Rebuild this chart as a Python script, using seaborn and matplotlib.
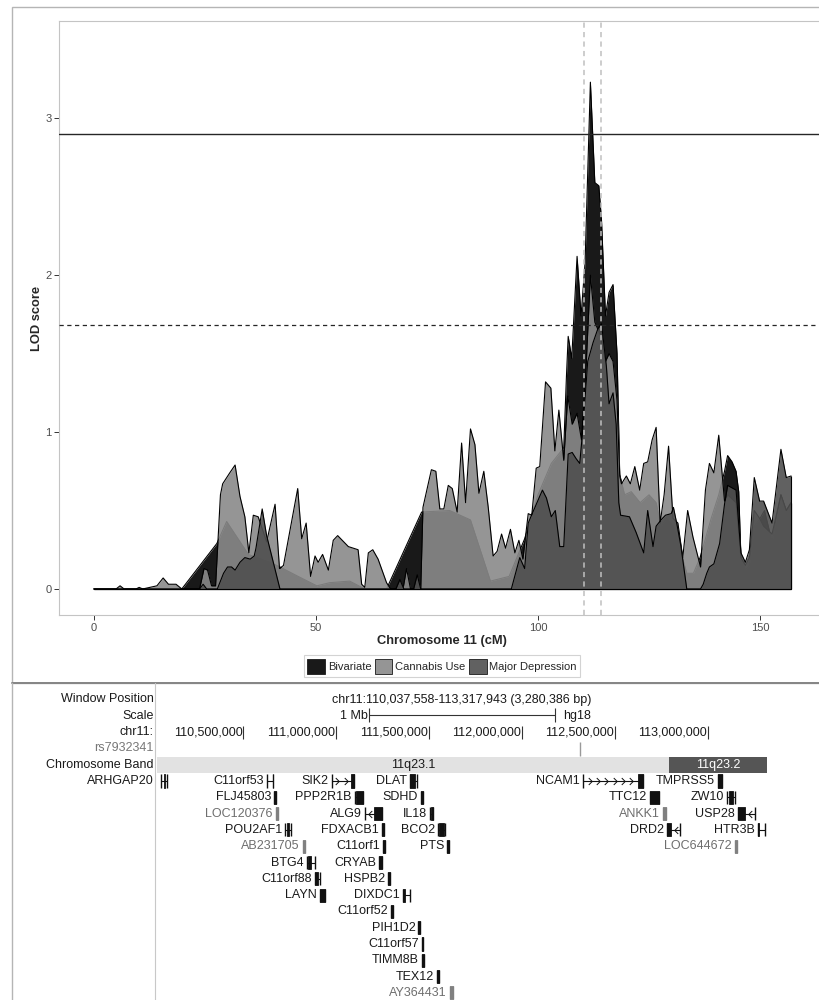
"""Chromosome 11 linkage scan (LOD) with the UCSC gene track of the peak region."""

import matplotlib.pyplot as plt
import numpy as np
import pandas as pd
import seaborn as sns
from matplotlib.colors import to_rgba
from matplotlib.lines import Line2D
from matplotlib.patches import Patch, Rectangle
from matplotlib.path import Path
from matplotlib.transforms import blended_transform_factory

# ---------------------------------------------------------------------------
# LOD curves, vertices (cM, LOD)
# ---------------------------------------------------------------------------
BIV_CM = [0.0, 19.8, 27.7, 29.9, 34.8, 39.7, 41.9, 46.0, 50.2, 53.1,
          57.6, 61.0, 65.9, 73.8, 80.1, 84.8, 89.3, 93.5, 97.0, 100.0,
          103.0, 105.8, 106.4, 106.8, 107.6, 108.8, 109.7, 110.6, 111.8, 112.8,
          113.7, 114.3, 115.2, 116.0, 116.9, 117.8, 118.4, 119.5, 121.0, 123.0,
          125.0, 126.6, 127.7, 129.0, 130.5, 132.0, 133.5, 135.0, 136.5, 137.5,
          139.0, 140.7, 142.0, 142.7, 143.7, 144.6, 145.2, 145.7, 146.7, 147.6,
          148.7, 150.0, 151.0, 152.7, 154.7, 155.9, 157.0]
BIV_LOD = [0.00, 0.00, 0.29, 0.43, 0.22, 0.17, 0.14, 0.08, 0.02, 0.04,
           0.05, 0.00, 0.00, 0.49, 0.50, 0.44, 0.05, 0.08, 0.32, 0.60,
           0.80, 0.90, 1.35, 1.61, 1.47, 2.12, 1.74, 2.08, 3.23, 2.59,
           2.57, 2.35, 1.74, 1.89, 1.94, 1.50, 0.73, 0.60, 0.62, 0.55,
           0.60, 0.55, 0.40, 0.45, 0.40, 0.25, 0.10, 0.10, 0.20, 0.30,
           0.45, 0.60, 0.75, 0.85, 0.81, 0.75, 0.62, 0.20, 0.12, 0.15,
           0.40, 0.45, 0.50, 0.30, 0.60, 0.50, 0.55]

CAN_CM = [0.0, 5.0, 5.9, 6.8, 9.5, 10.2, 11.0, 14.2, 15.6, 16.8,
          18.5, 19.8, 23.8, 24.8, 25.6, 26.5, 27.4, 28.5, 29.0, 30.6,
          31.8, 32.9, 34.0, 34.9, 35.9, 37.0, 38.9, 40.8, 41.8, 42.7,
          45.9, 46.8, 47.8, 48.8, 49.8, 50.5, 51.5, 52.8, 53.9, 54.9,
          57.3, 59.5, 60.3, 61.0, 61.8, 62.8, 64.0, 65.9, 66.8, 69.6,
          70.4, 71.3, 73.6, 74.1, 76.0, 77.0, 77.9, 78.8, 79.8, 80.7,
          81.8, 82.8, 83.7, 84.8, 85.8, 86.7, 87.8, 88.8, 89.9, 90.8,
          91.8, 92.7, 93.8, 94.8, 95.7, 96.6, 97.8, 98.6, 99.6, 100.4,
          101.7, 102.9, 103.8, 104.7, 105.8, 106.7, 107.7, 108.8, 109.8, 110.8,
          111.8, 112.8, 114.0, 115.2, 116.0, 116.9, 117.8, 118.4, 118.8, 119.9,
          120.8, 121.8, 122.9, 123.8, 124.7, 125.7, 126.6, 127.5, 128.4, 129.4,
          130.4, 131.5, 132.6, 133.7, 134.9, 136.6, 137.7, 138.6, 139.6, 140.7,
          142.0, 142.7, 144.6, 145.7, 146.7, 147.6, 148.7, 149.9, 150.8, 152.7,
          154.7, 155.9, 157.0]
CAN_LOD = [0.00, 0.00, 0.02, 0.00, 0.00, 0.01, 0.00, 0.02, 0.07, 0.03,
           0.03, 0.00, 0.00, 0.13, 0.12, 0.02, 0.02, 0.60, 0.67, 0.74,
           0.79, 0.59, 0.46, 0.23, 0.47, 0.46, 0.30, 0.54, 0.13, 0.15,
           0.64, 0.32, 0.42, 0.08, 0.21, 0.17, 0.22, 0.12, 0.31, 0.34,
           0.27, 0.25, 0.03, 0.01, 0.23, 0.25, 0.19, 0.04, 0.00, 0.00,
           0.13, 0.00, 0.00, 0.52, 0.76, 0.75, 0.51, 0.51, 0.66, 0.64,
           0.49, 0.93, 0.55, 1.02, 0.92, 0.61, 0.75, 0.52, 0.21, 0.24,
           0.35, 0.26, 0.38, 0.23, 0.31, 0.19, 0.48, 0.47, 0.77, 0.78,
           1.32, 1.28, 0.88, 1.14, 0.82, 1.23, 1.05, 1.12, 0.95, 1.40,
           2.00, 1.70, 1.62, 1.45, 1.50, 1.45, 1.20, 0.72, 0.67, 0.72,
           0.67, 0.78, 0.63, 0.80, 0.81, 0.95, 1.03, 0.42, 0.60, 0.91,
           0.45, 0.42, 0.20, 0.50, 0.33, 0.14, 0.63, 0.80, 0.74, 0.98,
           0.56, 0.60, 0.55, 0.20, 0.15, 0.20, 0.50, 0.45, 0.40, 0.35,
           0.60, 0.50, 0.55]

MD_CM = [0.0, 23.8, 24.6, 25.4, 27.8, 29.2, 30.1, 31.0, 31.8, 32.9,
         34.0, 35.2, 36.1, 36.5, 37.9, 38.9, 41.9, 68.0, 68.9, 69.8,
         72.0, 72.8, 73.6, 94.0, 95.9, 97.0, 97.8, 98.7, 101.0, 101.9,
         103.0, 103.9, 104.9, 105.8, 106.8, 107.7, 108.6, 109.4, 110.1, 111.2,
         112.4, 113.5, 114.3, 115.4, 116.0, 116.9, 117.6, 118.2, 118.6, 120.6,
         122.1, 123.8, 124.7, 125.9, 126.6, 127.7, 128.7, 130.0, 130.5, 131.3,
         132.2, 133.5, 136.6, 137.2, 138.0, 138.6, 139.6, 140.9, 142.0, 142.7,
         144.6, 145.7, 146.7, 147.6, 148.7, 149.9, 150.8, 152.7, 154.7, 155.9,
         157.0]
MD_LOD = [0.00, 0.00, 0.03, 0.00, 0.00, 0.10, 0.14, 0.14, 0.12, 0.17,
          0.20, 0.19, 0.21, 0.26, 0.51, 0.34, 0.00, 0.00, 0.06, 0.00,
          0.00, 0.09, 0.00, 0.00, 0.20, 0.13, 0.42, 0.48, 0.63, 0.58,
          0.46, 0.50, 0.27, 0.27, 0.86, 0.87, 0.83, 0.80, 1.02, 1.45,
          1.57, 1.66, 1.69, 1.42, 1.18, 1.25, 1.05, 0.55, 0.47, 0.46,
          0.36, 0.23, 0.50, 0.27, 0.40, 0.44, 0.47, 0.48, 0.52, 0.41,
          0.27, 0.00, 0.00, 0.03, 0.10, 0.14, 0.16, 0.29, 0.54, 0.66,
          0.63, 0.23, 0.17, 0.25, 0.71, 0.56, 0.56, 0.42, 0.89, 0.71,
          0.72]

TRAITS = ["Bivariate", "Cannabis Use", "Major Depression"]
X_TICKS = [0, 50, 100, 150]
Y_TICKS = [0, 1, 2, 3]
SIGNIFICANT_LOD = 2.90
SUGGESTIVE_LOD = 1.68
INTERVAL_CM = [110.3, 114.3]

# ---------------------------------------------------------------------------
# UCSC browser track (positions in Mb, hg18)
# ---------------------------------------------------------------------------
WINDOW_START = 110037558
WINDOW_END = 113317943
CHR_TICKS = [110.5, 111.0, 111.5, 112.0, 112.5, 113.0]
SNP_NAME = "rs7932341"
SNP_POS = 112.312
BAND_NAMES = ["11q23.1", "11q23.2"]
BAND_START = [110.037558, 112.793]
BAND_END = [112.793, 113.317943]

GENE_NAMES = ["ARHGAP20", "C11orf53", "SIK2", "DLAT", "NCAM1", "TMPRSS5",
              "FLJ45803", "PPP2R1B", "SDHD", "TTC12", "ZW10",
              "LOC120376", "ALG9", "IL18", "ANKK1", "USP28",
              "POU2AF1", "FDXACB1", "BCO2", "DRD2", "HTR3B",
              "AB231705", "C11orf1", "PTS", "LOC644672",
              "BTG4", "CRYAB",
              "C11orf88", "HSPB2",
              "LAYN", "DIXDC1",
              "C11orf52", "PIH1D2", "C11orf57", "TIMM8B", "TEX12", "AY364431"]
GENE_ROWS = [0, 0, 0, 0, 0, 0,
             1, 1, 1, 1, 1,
             2, 2, 2, 2, 2,
             3, 3, 3, 3, 3,
             4, 4, 4, 4,
             5, 5,
             6, 6,
             7, 7,
             8, 9, 10, 11, 12, 13]
GENE_START = [110.0554, 110.6259, 110.9758, 111.3972, 112.3283, 113.0549,
              110.6652, 111.1012, 111.4564, 112.6889, 113.1033,
              110.6760, 111.1550, 111.5048, 112.7589, 113.1625,
              110.7244, 111.2449, 111.5463, 112.7804, 113.2702,
              110.8213, 111.2503, 111.5980, 113.1464,
              110.8412, 111.2304,
              110.8859, 111.2772,
              110.9128, 111.3579,
              111.2933, 111.4419, 111.4602, 111.4602, 111.5441, 111.6125]
GENE_END = [110.0877, 110.6615, 111.0958, 111.4349, 112.6513, 113.0764,
            110.6760, 111.1442, 111.4688, 112.7374, 113.1464,
            110.6868, 111.2449, 111.5194, 112.7750, 113.2540,
            110.7551, 111.2573, 111.5856, 112.8504, 113.3078,
            110.8321, 111.2627, 111.6087, 113.1572,
            110.8859, 111.2449,
            110.9128, 111.2896,
            110.9397, 111.3972,
            111.3073, 111.4510, 111.4688, 111.4725, 111.5549, 111.6270]
GENE_THICK_START = [110.0732, 110.6580, 111.0800, 111.3972, 112.6250, 113.0549,
                    110.6652, 111.1066, 111.4564, 112.6889, 113.1141,
                    110.6760, 111.2034, 111.5100, 112.7589, 113.1625,
                    110.7352, 111.2449, 111.5533, 112.7804, 113.2702,
                    110.8213, 111.2503, 111.5980, 113.1464,
                    110.8482, 111.2304,
                    110.8859, 111.2772,
                    110.9128, 111.3579,
                    111.2933, 111.4419, 111.4602, 111.4602, 111.5441, 111.6125]
GENE_THICK_END = [110.0786, 110.6615, 111.0958, 111.4241, 112.6513, 113.0764,
                  110.6760, 111.1442, 111.4688, 112.7374, 113.1356,
                  110.6868, 111.2449, 111.5194, 112.7750, 113.2002,
                  110.7460, 111.2573, 111.5802, 112.8019, 113.2750,
                  110.8321, 111.2627, 111.6087, 113.1572,
                  110.8644, 111.2449,
                  110.9020, 111.2896,
                  110.9397, 111.3703,
                  111.3073, 111.4510, 111.4688, 111.4725, 111.5549, 111.6270]
GENE_STRAND = ["-", "+", "+", "+", "+", "-",
               "+", "-", "+", "+", "-",
               "+", "-", "-", "+", "-",
               "-", "-", "+", "-", "+",
               "+", "-", "+", "+",
               "-", "-",
               "+", "+",
               "+", "+",
               "+", "-", "+", "-", "+", "+"]
NON_REFSEQ = ["LOC120376", "AB231705", "ANKK1", "LOC644672", "AY364431"]

# ---------------------------------------------------------------------------
# Figure layout helpers (pixel -> figure fraction, 820 x 1000 canvas)
# ---------------------------------------------------------------------------
W, H = 820, 1000


def fx(px):
    return px / W


def fy(py):
    return 1 - py / H


def row_of(py):
    """Gene-track row index for a pixel height (row 0 sits at y=781 px)."""
    return (py - 781) / 16.3


sns.set_theme(style="white")
plt.rcParams["font.family"] = ["Liberation Sans", "DejaVu Sans"]

fig = plt.figure(figsize=(8.2, 10), dpi=100)

# frames around the two panels
fig.add_artist(Rectangle((fx(12), fy(683)), fx(840) - fx(12), fy(6.7) - fy(683),
                         transform=fig.transFigure, fill=False, ec="#b5b5b5", lw=1.0))
fig.add_artist(Line2D([fx(12), 1], [fy(683), fy(683)], color="#858585", lw=1.4))
fig.add_artist(Line2D([fx(12), fx(12)], [fy(683), 0], color="#b5b5b5", lw=1.0))
fig.add_artist(Line2D([fx(155), fx(155)], [fy(683), 0], color="#c8c8c8", lw=0.8))

# ---------------------------------------------------------------------------
# Top panel: overlapping LOD areas
# ---------------------------------------------------------------------------
ax = fig.add_axes([fx(59), fy(615), fx(826) - fx(59), fy(21) - fy(615)])

df = pd.concat([
    pd.DataFrame({"cM": BIV_CM, "LOD": BIV_LOD, "trait": TRAITS[0]}),
    pd.DataFrame({"cM": CAN_CM, "LOD": CAN_LOD, "trait": TRAITS[1]}),
    pd.DataFrame({"cM": MD_CM, "LOD": MD_LOD, "trait": TRAITS[2]}),
], ignore_index=True)

fills = {"Bivariate": "#000000", "Cannabis Use": "#8a8a8a", "Major Depression": "#505050"}
alpha = 0.9

for i, trait in enumerate(TRAITS):
    grp = df[df["trait"] == trait]
    ax.fill_between(grp["cM"], 0, grp["LOD"], facecolor=to_rgba(fills[trait], alpha),
                    lw=0, zorder=1 + 2 * i)
    # outline on top of its own fill (ggplot draws fill + colour per group)
    sns.lineplot(data=grp, x="cM", y="LOD", ax=ax, color="black", lw=0.8,
                 estimator=None, sort=False, legend=False, zorder=2 + 2 * i)
    ax.plot([grp["cM"].min(), grp["cM"].max()], [0, 0], color="black", lw=0.8,
            zorder=2 + 2 * i)
    ax.vlines(grp["cM"].iloc[-1], 0, grp["LOD"].iloc[-1], color="black", lw=0.8,
              zorder=2 + 2 * i)

ax.axhline(SIGNIFICANT_LOD, color="#262626", lw=1.0, zorder=10)
ax.axhline(SUGGESTIVE_LOD, color="#262626", lw=0.9, ls=(0, (3.4, 2.8)), zorder=10)
for c in INTERVAL_CM:
    ax.axvline(c, color="#c0c0c0", lw=1.1, ls=(0, (3.4, 2.8)), zorder=11)

ax.set_xlim(-7.85, 164.85)
ax.set_ylim(-0.166, 3.62)
ax.set_xticks(X_TICKS)
ax.set_yticks(Y_TICKS)
ax.set_xlabel("")
ax.set_ylabel("")
ax.tick_params(bottom=True, left=True, direction="out", length=3.5, width=0.7,
               color="#333333", labelcolor="#4d4d4d", labelsize=8, pad=2)
ax.grid(False)
for s in ax.spines.values():
    s.set_color("#c4c4c4")
    s.set_linewidth(0.8)

fig.text(fx(442), fy(641), "Chromosome 11 (cM)", ha="center", va="center",
         fontsize=9.3, fontweight="bold")
fig.text(fx(37), fy(318), "LOD score", ha="center", va="center", rotation=90,
         fontsize=9.3, fontweight="bold")

handles = [Patch(facecolor=to_rgba(fills[t], alpha), edgecolor="#1a1a1a", lw=0.6, label=t)
           for t in TRAITS]
leg = fig.legend(handles=handles, loc="center", bbox_to_anchor=(fx(442), fy(666)), ncol=3,
                 fontsize=8, frameon=True, fancybox=False, edgecolor="#c8c8c8",
                 facecolor="white", handlelength=1.6, handleheight=1.7,
                 handletextpad=0.25, columnspacing=0.3, borderpad=0.3, borderaxespad=0)
leg.get_frame().set_linewidth(0.8)

# ---------------------------------------------------------------------------
# Bottom panel: UCSC style gene track
# ---------------------------------------------------------------------------
w_start = WINDOW_START / 1e6
w_end = WINDOW_END / 1e6
ax2 = fig.add_axes([fx(157.4), 0, fx(766.9) - fx(157.4), fy(683)])
ax2.set_xlim(w_start, w_end)
ax2.set_ylim(row_of(1000), row_of(683))
ax2.axis("off")

lab_tf = blended_transform_factory(fig.transFigure, ax2.transData)
label_x = fx(154)
fs = 9

header = [("Window Position", "#1a1a1a"), ("Scale", "#1a1a1a"), ("chr11:", "#1a1a1a"),
          (SNP_NAME, "#777777"), ("Chromosome Band", "#1a1a1a")]
for k, (txt, col) in enumerate(header):
    ax2.text(label_x, k - 5, txt, transform=lab_tf, ha="right", va="center",
             fontsize=fs, color=col, clip_on=False)

mid = (w_start + w_end) / 2
ax2.text(mid, -5, f"chr11:{WINDOW_START:,}-{WINDOW_END:,} ({WINDOW_END - WINDOW_START + 1:,} bp)",
         ha="center", va="center", fontsize=fs, color="#1a1a1a")

# scale bar of 1 Mb centred on the window
left, right = mid - 0.5, mid + 0.5
ax2.plot([left, right], [-4.05, -4.05], color="#333333", lw=0.8)
ax2.vlines([left, right], -4.45, -3.62, color="#333333", lw=0.8)
ax2.annotate("1 Mb", (left, -4), xytext=(-1, 0), textcoords="offset points",
             ha="right", va="center", fontsize=fs, color="#1a1a1a")
ax2.annotate("hg18", (right, -4), xytext=(6, 0), textcoords="offset points",
             ha="left", va="center", fontsize=fs, color="#1a1a1a")

# base position ruler
for t in CHR_TICKS:
    ax2.vlines(t, -3.38, -2.58, color="#333333", lw=0.8)
    ax2.annotate(f"{int(round(t * 1e6)):,}", (t, -3), xytext=(-0.5, 0),
                 textcoords="offset points", ha="right", va="center", fontsize=fs,
                 color="#1a1a1a")

# SNP marker
ax2.vlines(SNP_POS, -2.39, -1.52, color="#999999", lw=1.0)

# cytoband
band_cols = ["#e2e2e2", "#555555"]
band_txt = ["#1a1a1a", "white"]
for name, b0, b1, bc, tc in zip(BAND_NAMES, BAND_START, BAND_END, band_cols, band_txt):
    ax2.add_patch(Rectangle((b0, -1.48), b1 - b0, 0.96, fc=bc, ec="none"))
    ax2.text((b0 + b1) / 2, -1, name, ha="center", va="center", fontsize=fs, color=tc)

# genes
chev_fwd = Path([(-0.5, 1), (0.5, 0), (-0.5, -1)], [Path.MOVETO, Path.LINETO, Path.LINETO])
chev_rev = Path([(0.5, 1), (-0.5, 0), (0.5, -1)], [Path.MOVETO, Path.LINETO, Path.LINETO])
spacing = 0.045
half = 0.4
for name, r, s, e, ts, te, strand in zip(GENE_NAMES, GENE_ROWS, GENE_START, GENE_END,
                                         GENE_THICK_START, GENE_THICK_END, GENE_STRAND):
    col = "#808080" if name in NON_REFSEQ else "#111111"
    tcol = "#6e6e6e" if name in NON_REFSEQ else "#1a1a1a"
    ax2.plot([s, e], [r, r], color=col, lw=0.8, solid_capstyle="butt")
    ax2.vlines([s, e], r - half, r + half, color=col, lw=1.0)
    ax2.add_patch(Rectangle((ts, r - half), te - ts, 2 * half, fc=col, ec=col, lw=0.6))

    # strand chevrons along the longest intron stretch
    gaps = [(s, ts), (te, e)]
    g0, g1 = max(gaps, key=lambda g: g[1] - g[0])
    n = int((g1 - g0) / spacing)
    if n > 0:
        xs = g0 + spacing * (np.arange(n) + 0.5) + ((g1 - g0) - n * spacing) / 2
        ax2.plot(xs, [r] * n, ls="none", marker=chev_fwd if strand == "+" else chev_rev,
                 ms=5, mfc="none", mec=col, mew=0.7)

    if s < w_start + 0.03:
        ax2.text(label_x, r, name, transform=lab_tf, ha="right", va="center",
                 fontsize=fs, color=tcol, clip_on=False)
    else:
        ax2.annotate(name, (s, r), xytext=(-2.2, 0), textcoords="offset points",
                     ha="right", va="center", fontsize=fs, color=tcol)

fig.savefig("out.png", dpi=100)
